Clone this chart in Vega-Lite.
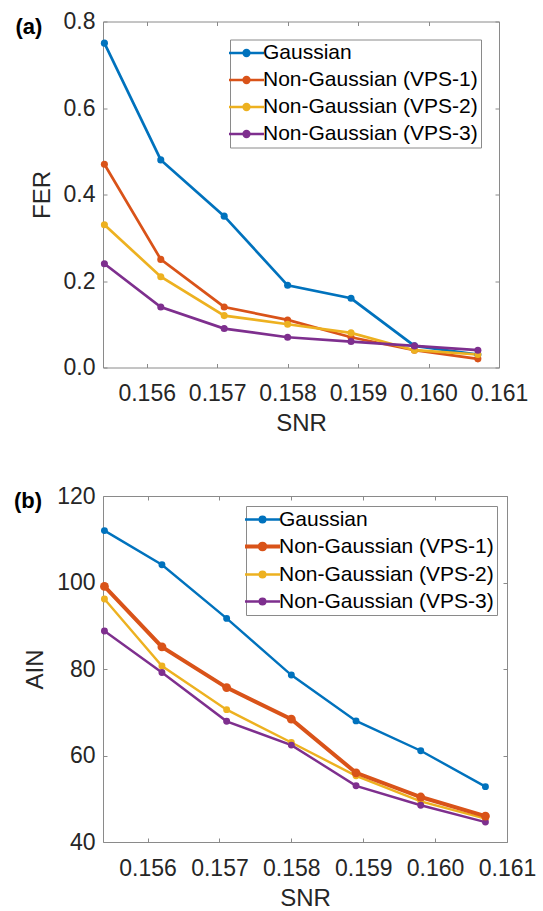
{
  "$schema": "https://vega.github.io/schema/vega-lite/v6.json",
  "padding": {"left": 13, "top": 9.5, "right": 5, "bottom": 2},
  "spacing": 47.5,
  "resolve": {"scale": {"color": "independent"}, "legend": {"color": "independent"}},
  "datasets": {
    "fer": [
      {"snr": 0.1554, "series": "Gaussian", "value": 0.75},
      {"snr": 0.1562, "series": "Gaussian", "value": 0.48},
      {"snr": 0.1571, "series": "Gaussian", "value": 0.35},
      {"snr": 0.1580, "series": "Gaussian", "value": 0.19},
      {"snr": 0.1589, "series": "Gaussian", "value": 0.16},
      {"snr": 0.1598, "series": "Gaussian", "value": 0.05},
      {"snr": 0.1607, "series": "Gaussian", "value": 0.03},
      {"snr": 0.1554, "series": "Non-Gaussian (VPS-1)", "value": 0.47},
      {"snr": 0.1562, "series": "Non-Gaussian (VPS-1)", "value": 0.25},
      {"snr": 0.1571, "series": "Non-Gaussian (VPS-1)", "value": 0.14},
      {"snr": 0.1580, "series": "Non-Gaussian (VPS-1)", "value": 0.11},
      {"snr": 0.1589, "series": "Non-Gaussian (VPS-1)", "value": 0.07},
      {"snr": 0.1598, "series": "Non-Gaussian (VPS-1)", "value": 0.04},
      {"snr": 0.1607, "series": "Non-Gaussian (VPS-1)", "value": 0.02},
      {"snr": 0.1554, "series": "Non-Gaussian (VPS-2)", "value": 0.33},
      {"snr": 0.1562, "series": "Non-Gaussian (VPS-2)", "value": 0.21},
      {"snr": 0.1571, "series": "Non-Gaussian (VPS-2)", "value": 0.12},
      {"snr": 0.1580, "series": "Non-Gaussian (VPS-2)", "value": 0.10},
      {"snr": 0.1589, "series": "Non-Gaussian (VPS-2)", "value": 0.08},
      {"snr": 0.1598, "series": "Non-Gaussian (VPS-2)", "value": 0.04},
      {"snr": 0.1607, "series": "Non-Gaussian (VPS-2)", "value": 0.03},
      {"snr": 0.1554, "series": "Non-Gaussian (VPS-3)", "value": 0.24},
      {"snr": 0.1562, "series": "Non-Gaussian (VPS-3)", "value": 0.14},
      {"snr": 0.1571, "series": "Non-Gaussian (VPS-3)", "value": 0.09},
      {"snr": 0.1580, "series": "Non-Gaussian (VPS-3)", "value": 0.07},
      {"snr": 0.1589, "series": "Non-Gaussian (VPS-3)", "value": 0.06},
      {"snr": 0.1598, "series": "Non-Gaussian (VPS-3)", "value": 0.05},
      {"snr": 0.1607, "series": "Non-Gaussian (VPS-3)", "value": 0.04}
    ],
    "ain": [
      {"snr": 0.1554, "series": "Gaussian", "value": 112.0},
      {"snr": 0.1562, "series": "Gaussian", "value": 104.1},
      {"snr": 0.1571, "series": "Gaussian", "value": 91.7},
      {"snr": 0.1580, "series": "Gaussian", "value": 78.6},
      {"snr": 0.1589, "series": "Gaussian", "value": 68.0},
      {"snr": 0.1598, "series": "Gaussian", "value": 61.1},
      {"snr": 0.1607, "series": "Gaussian", "value": 52.8},
      {"snr": 0.1554, "series": "Non-Gaussian (VPS-1)", "value": 99.1},
      {"snr": 0.1562, "series": "Non-Gaussian (VPS-1)", "value": 85.1},
      {"snr": 0.1571, "series": "Non-Gaussian (VPS-1)", "value": 75.7},
      {"snr": 0.1580, "series": "Non-Gaussian (VPS-1)", "value": 68.4},
      {"snr": 0.1589, "series": "Non-Gaussian (VPS-1)", "value": 56.0},
      {"snr": 0.1598, "series": "Non-Gaussian (VPS-1)", "value": 50.4},
      {"snr": 0.1607, "series": "Non-Gaussian (VPS-1)", "value": 46.0},
      {"snr": 0.1554, "series": "Non-Gaussian (VPS-2)", "value": 96.2},
      {"snr": 0.1562, "series": "Non-Gaussian (VPS-2)", "value": 80.7},
      {"snr": 0.1571, "series": "Non-Gaussian (VPS-2)", "value": 70.6},
      {"snr": 0.1580, "series": "Non-Gaussian (VPS-2)", "value": 63.0},
      {"snr": 0.1589, "series": "Non-Gaussian (VPS-2)", "value": 55.3},
      {"snr": 0.1598, "series": "Non-Gaussian (VPS-2)", "value": 49.4},
      {"snr": 0.1607, "series": "Non-Gaussian (VPS-2)", "value": 45.4},
      {"snr": 0.1554, "series": "Non-Gaussian (VPS-3)", "value": 88.8},
      {"snr": 0.1562, "series": "Non-Gaussian (VPS-3)", "value": 79.2},
      {"snr": 0.1571, "series": "Non-Gaussian (VPS-3)", "value": 67.9},
      {"snr": 0.1580, "series": "Non-Gaussian (VPS-3)", "value": 62.4},
      {"snr": 0.1589, "series": "Non-Gaussian (VPS-3)", "value": 53.0},
      {"snr": 0.1598, "series": "Non-Gaussian (VPS-3)", "value": 48.5},
      {"snr": 0.1607, "series": "Non-Gaussian (VPS-3)", "value": 44.6}
    ]
  },
  "vconcat": [
    {
      "width": 396,
      "height": 346,
      "data": {"name": "fer"},
      "layer": [
        {
          "mark": {"type": "line", "strokeWidth": 2.7},
          "encoding": {
            "x": {"field": "snr", "type": "quantitative", "scale": {"domain": [0.15538, 0.161], "nice": false, "zero": false},
                  "axis": {"values": [0.156, 0.157, 0.158, 0.159, 0.160, 0.161], "format": ".3f", "title": "SNR", "labelFlush": false}},
            "y": {"field": "value", "type": "quantitative", "scale": {"domain": [0, 0.8], "nice": false},
                  "axis": {"values": [0, 0.2, 0.4, 0.6, 0.8], "format": ".1f", "title": "FER"}},
            "color": {"field": "series", "type": "nominal",
                      "scale": {"domain": ["Gaussian", "Non-Gaussian (VPS-1)", "Non-Gaussian (VPS-2)", "Non-Gaussian (VPS-3)"], "range": ["#0072BD", "#D95319", "#EDB120", "#7E2F8E"]},
                      "legend": {"title": null, "orient": "top-right", "offset": 18,
                                 "encode": {"symbols": {"update": {"strokeWidth": {"signal": "datum.value === 'Gaussian' ? 2.7 : 2.7"}}}}}}
          }
        },
        {
          "mark": {"type": "point", "filled": true, "size": 50, "opacity": 1},
          "encoding": {
            "x": {"field": "snr", "type": "quantitative", "axis": null},
            "y": {"field": "value", "type": "quantitative", "axis": null},
            "color": {"field": "series", "type": "nominal", "legend": null}
          }
        },
        {
          "mark": {"type": "line", "strokeOpacity": 0},
          "encoding": {
            "x": {"field": "snr", "type": "quantitative", "axis": {"orient": "top", "labels": false, "values": [0.156, 0.157, 0.158, 0.159, 0.160, 0.161],
                   "title": "(a)", "titleX": -88, "titleY": 11.5, "titleAlign": "left", "titleBaseline": "alphabetic", "titleAngle": 0,
                   "titleFontSize": 22, "titleFontWeight": "bold", "titleColor": "#000000"}},
            "y": {"field": "value", "type": "quantitative", "axis": {"orient": "right", "labels": false, "title": null, "values": [0, 0.2, 0.4, 0.6, 0.8]}}
          }
        }
      ],
      "resolve": {"axis": {"x": "independent", "y": "independent"}}
    },
    {
      "width": 404,
      "height": 346,
      "data": {"name": "ain"},
      "layer": [
        {
          "mark": {"type": "line", "strokeWidth": 2.4},
          "encoding": {
            "x": {"field": "snr", "type": "quantitative", "scale": {"domain": [0.15538, 0.161], "nice": false, "zero": false},
                  "axis": {"values": [0.156, 0.157, 0.158, 0.159, 0.160, 0.161], "format": ".3f", "title": "SNR", "labelFlush": false}},
            "y": {"field": "value", "type": "quantitative", "scale": {"domain": [40, 120], "nice": false},
                  "axis": {"values": [40, 60, 80, 100, 120], "format": "d", "title": "AIN"}},
            "color": {"field": "series", "type": "nominal",
                      "scale": {"domain": ["Gaussian", "Non-Gaussian (VPS-1)", "Non-Gaussian (VPS-2)", "Non-Gaussian (VPS-3)"], "range": ["#0072BD", "#D95319", "#EDB120", "#7E2F8E"]},
                      "legend": {"title": null, "orient": "top-right", "offset": 9.6,
                                 "encode": {"symbols": {"update": {
                                   "strokeWidth": {"signal": "datum.value === 'Non-Gaussian (VPS-1)' ? 4 : 2.4"}}}}}}
          }
        },
        {
          "transform": [{"filter": "datum.series === 'Non-Gaussian (VPS-1)'"}],
          "mark": {"type": "line", "strokeWidth": 4},
          "encoding": {
            "x": {"field": "snr", "type": "quantitative", "axis": null},
            "y": {"field": "value", "type": "quantitative", "axis": null},
            "color": {"field": "series", "type": "nominal", "legend": null}
          }
        },
        {
          "mark": {"type": "point", "filled": true, "size": 48, "opacity": 1},
          "encoding": {
            "x": {"field": "snr", "type": "quantitative", "axis": null},
            "y": {"field": "value", "type": "quantitative", "axis": null},
            "color": {"field": "series", "type": "nominal", "legend": null}
          }
        },
        {
          "transform": [{"filter": "datum.series === 'Non-Gaussian (VPS-1)'"}],
          "mark": {"type": "point", "filled": true, "size": 78, "opacity": 1},
          "encoding": {
            "x": {"field": "snr", "type": "quantitative", "axis": null},
            "y": {"field": "value", "type": "quantitative", "axis": null},
            "color": {"field": "series", "type": "nominal", "legend": null}
          }
        },
        {
          "mark": {"type": "line", "strokeOpacity": 0},
          "encoding": {
            "x": {"field": "snr", "type": "quantitative", "axis": {"orient": "top", "labels": false, "values": [0.156, 0.157, 0.158, 0.159, 0.160, 0.161],
                   "title": "(b)", "titleX": -89.5, "titleY": 11.5, "titleAlign": "left", "titleBaseline": "alphabetic", "titleAngle": 0,
                   "titleFontSize": 22, "titleFontWeight": "bold", "titleColor": "#000000"}},
            "y": {"field": "value", "type": "quantitative", "axis": {"orient": "right", "labels": false, "title": null, "values": [40, 60, 80, 100, 120]}}
          }
        }
      ],
      "resolve": {"axis": {"x": "independent", "y": "independent"}}
    }
  ],
  "config": {
    "font": "Liberation Sans",
    "view": {"stroke": "#8a8a8a", "strokeWidth": 1},
    "axis": {
      "grid": false,
      "domain": false,
      "tickColor": "#8a8a8a",
      "tickSize": -4,
      "tickWidth": 1,
      "labelFont": "Liberation Sans",
      "labelFontSize": 23,
      "labelColor": "#262626",
      "titleFont": "Liberation Sans",
      "titleFontSize": 24,
      "titleFontWeight": "normal",
      "titleColor": "#262626",
      "labelPadding": 12,
      "titlePadding": 9
    },
    "axisX": {"labelPadding": 19, "titlePadding": 6},
    "legend": {
      "fillColor": "#ffffff",
      "strokeColor": "#8a8a8a",
      "padding": 3,
      "labelFont": "Liberation Sans",
      "labelFontSize": 21,
      "labelColor": "#000000",
      "labelLimit": 400,
      "rowPadding": 5,
      "symbolType": "M-1,0H1M-0.16,0a0.16,0.16 0 1,0 0.32,0a0.16,0.16 0 1,0 -0.32,0",
      "symbolSize": 1225,
      "symbolStrokeWidth": 2.5,
      "symbolOffset": 3,
      "labelOffset": 6
    }
  }
}
